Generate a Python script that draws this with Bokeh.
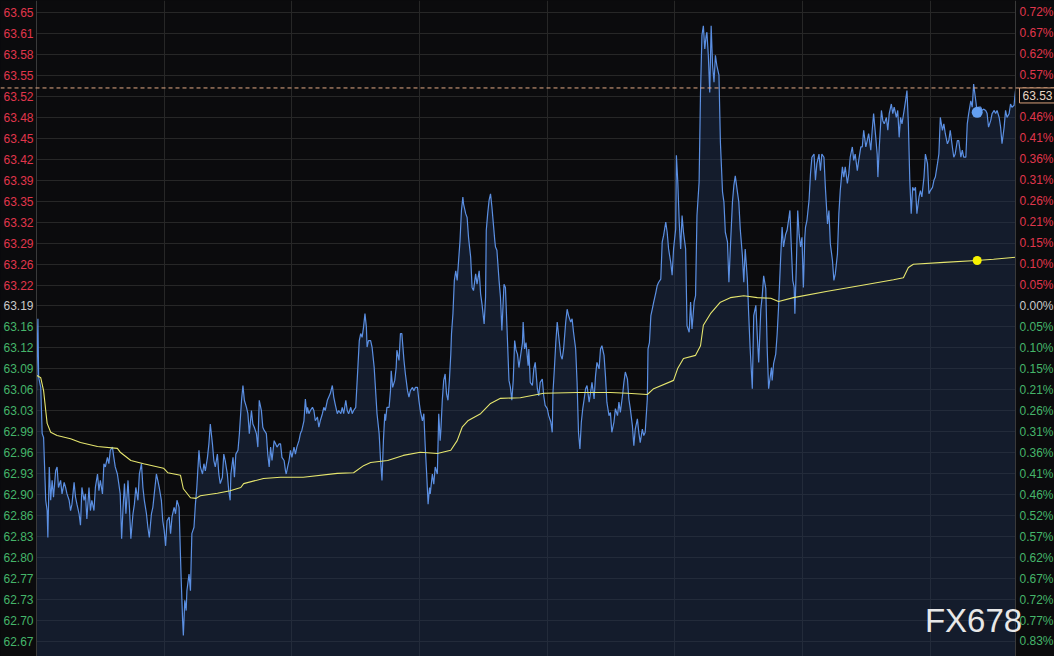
from bokeh.plotting import figure
from bokeh.models import (Range1d, Grid, FixedTicker, LabelSet, Label, Span,
                          ColumnDataSource, BoxAnnotation)
from bokeh.core.properties import value
from bokeh.embed import file_html
from bokeh.resources import INLINE

# ---------------- data (session minutes 0..1380, prices) ----------------
prev_close = 63.19
tick_step = 0.0327
last_price = 63.53
session_minutes = 1380
grid_minutes = [180, 360, 540, 720, 900, 1080, 1260]

left_labels = ["63.65", "63.61", "63.58", "63.55", "63.52", "63.48", "63.45", "63.42",
               "63.39", "63.35", "63.32", "63.29", "63.26", "63.22", "63.19", "63.16",
               "63.12", "63.09", "63.06", "63.03", "62.99", "62.96", "62.93", "62.90",
               "62.86", "62.83", "62.80", "62.77", "62.73", "62.70", "62.67"]
right_labels = ["0.72%", "0.67%", "0.62%", "0.57%", "0.52%", "0.46%", "0.41%", "0.36%",
                "0.31%", "0.26%", "0.21%", "0.15%", "0.10%", "0.05%", "0.00%", "0.05%",
                "0.10%", "0.15%", "0.21%", "0.26%", "0.31%", "0.36%", "0.41%", "0.46%",
                "0.52%", "0.57%", "0.62%", "0.67%", "0.72%", "0.77%", "0.83%"]
tick_steps = list(range(14, -17, -1))

t1 = [0, 1, 2, 3, 6, 8, 10, 13, 15, 16,
      18, 20, 22, 24, 27, 29, 31, 34, 36, 39,
      41, 43, 46, 48, 50, 53, 55, 57, 60, 62,
      64, 67, 69, 71, 74, 76, 78, 81, 83, 86,
      88, 90, 93, 95, 97, 100, 102, 104, 107, 109,
      111, 114, 116, 118, 120, 122, 124, 126, 129, 131,
      133, 136, 138, 140, 143, 145, 148, 150, 152, 155,
      157, 159, 162, 164, 166, 169, 171, 173, 176, 178,
      180, 182, 184, 187, 189, 191, 194, 196, 198, 201,
      203, 204, 206, 207, 209, 211, 212, 215, 217, 219,
      222, 224, 226, 229, 231, 234, 236, 238, 241, 243,
      245, 248, 250, 252, 255, 257, 259, 262, 264, 266,
      269, 271, 273, 274, 277, 279, 281, 284, 286, 289,
      291, 293, 296, 298, 300, 303, 305, 307, 310, 312,
      314, 317, 319, 321, 324, 326, 328, 330, 332, 335,
      337, 339, 342]
p1 = [63.058, 63.115, 63.170, 63.079, 63.063, 62.991, 62.985, 62.887, 62.871, 62.829,
      62.939, 62.887, 62.918, 62.892, 62.933, 62.939, 62.907, 62.918, 62.897, 62.915,
      62.907, 62.897, 62.887, 62.871, 62.881, 62.915, 62.892, 62.881, 62.866, 62.848,
      62.907, 62.887, 62.897, 62.858, 62.907, 62.871, 62.887, 62.871, 62.907, 62.928,
      62.902, 62.918, 62.897, 62.944, 62.939, 62.954, 62.944, 62.965, 62.970, 62.954,
      62.939, 62.928, 62.913, 62.897, 62.827, 62.876, 62.913, 62.866, 62.918, 62.876,
      62.827, 62.866, 62.881, 62.907, 62.887, 62.928, 62.944, 62.907, 62.887, 62.866,
      62.845, 62.829, 62.866, 62.876, 62.897, 62.928, 62.918, 62.907, 62.887, 62.855,
      62.840, 62.816, 62.855, 62.861, 62.835, 62.861, 62.876, 62.866, 62.887, 62.876,
      62.798, 62.762, 62.699, 62.676, 62.731, 62.715, 62.746, 62.772, 62.746, 62.835,
      62.845, 62.881, 62.907, 62.965, 62.939, 62.928, 62.944, 62.933, 62.954, 62.975,
      63.006, 62.975, 62.949, 62.939, 62.959, 62.928, 62.913, 62.923, 62.959, 62.949,
      62.928, 62.902, 62.887, 62.928, 62.954, 62.923, 62.959, 62.965, 62.991, 63.043,
      63.066, 63.043, 63.032, 63.022, 62.991, 63.027, 63.006, 63.001, 62.991, 62.970,
      63.043, 63.027, 63.001, 62.996, 62.991, 62.959, 62.939, 62.970, 62.949, 62.980,
      62.975, 62.970, 62.975]

t2 = [344, 346, 349, 351, 352, 354, 356, 358, 360, 363,
      365, 367, 370, 372, 374, 377, 379, 381, 382, 384,
      386, 389, 391, 393, 396, 398, 400, 403, 405, 407,
      410, 412, 414, 417, 419, 421, 424, 426, 429, 431,
      433, 436, 438, 440, 443, 445, 447, 450, 451, 453,
      455, 457, 459, 461, 463, 465, 466, 468, 471, 473,
      476, 478, 480, 483, 485, 487, 489, 491, 492, 494,
      497, 499, 500, 502, 505, 507, 508, 511, 513, 515,
      518, 520, 523, 525, 527, 530, 532, 534, 537, 539,
      541, 544, 546, 548, 550, 552, 554, 555, 558, 560,
      562, 565, 567, 569, 570, 572, 574, 576, 578, 580,
      582, 584, 585, 587, 589, 591, 593, 595, 597, 599,
      601, 602, 605, 607, 609, 612, 614, 616, 619, 621,
      624, 626, 628, 631, 633, 634, 636, 638, 640, 642,
      644, 646, 647, 649, 652, 654, 656, 659, 661, 663,
      666, 668, 670, 672, 674, 676, 678, 680]
p2 = [62.975, 62.954, 62.949, 62.933, 62.928, 62.939, 62.949, 62.965, 62.954, 62.970,
      62.959, 62.970, 62.980, 62.991, 62.996, 63.011, 63.045, 63.022, 63.032, 63.022,
      63.027, 63.032, 63.027, 63.011, 63.017, 63.001, 63.011, 63.022, 63.032, 63.027,
      63.043, 63.048, 63.053, 63.066, 63.048, 63.037, 63.022, 63.027, 63.022, 63.032,
      63.022, 63.043, 63.027, 63.022, 63.032, 63.022, 63.027, 63.032, 63.053, 63.094,
      63.136, 63.147, 63.141, 63.157, 63.178, 63.157, 63.126, 63.136, 63.136, 63.126,
      63.094, 63.058, 63.022, 62.991, 62.949, 62.918, 62.980, 63.022, 63.011, 63.032,
      63.032, 63.058, 63.089, 63.063, 63.074, 63.094, 63.121, 63.105, 63.147, 63.147,
      63.105, 63.084, 63.058, 63.048, 63.058, 63.063, 63.058, 63.063, 63.063, 63.043,
      63.027, 63.011, 63.022, 62.970, 62.928, 62.881, 62.907, 62.897, 62.928, 62.912,
      62.939, 62.928, 63.022, 62.980, 62.996, 63.043, 63.074, 63.084, 63.053, 63.043,
      63.074, 63.115, 63.147, 63.178, 63.230, 63.245, 63.230, 63.261, 63.292, 63.339,
      63.360, 63.349, 63.334, 63.328, 63.297, 63.266, 63.219, 63.214, 63.240, 63.224,
      63.245, 63.209, 63.193, 63.162, 63.204, 63.308, 63.334, 63.355, 63.365, 63.344,
      63.318, 63.292, 63.282, 63.277, 63.230, 63.204, 63.152, 63.224, 63.219, 63.162,
      63.074, 63.063, 63.043, 63.074, 63.136, 63.121, 63.115, 63.094]

t3 = [685, 686, 688, 690, 693, 694, 696, 699, 701, 703,
      706, 708, 710, 713, 715, 717, 720, 722, 725, 727,
      728, 730, 732, 734, 736, 739, 741, 743, 746, 748,
      750, 753, 755, 757, 760, 762, 764, 766, 768, 770,
      772, 774, 776, 779, 781, 783, 786, 788, 790, 793,
      795, 797, 800, 802, 804, 807, 809, 811, 814, 816,
      819, 821, 823, 826, 828, 830, 833, 835, 837, 840,
      842, 844, 847, 849, 851, 854, 856, 858, 861, 862,
      864, 866, 868, 870, 873, 875, 877, 880, 882, 884,
      887, 889, 891, 894, 896, 898, 901, 902, 904, 906,
      908, 910, 912, 915, 917, 920, 922, 924, 927, 929,
      931, 934, 936, 938, 940, 942, 944, 945, 947, 949,
      951, 953, 955, 957, 959, 962, 964, 967, 969, 971,
      974, 976, 978, 981, 983, 985, 988, 990, 992, 995,
      997, 999, 1002, 1004, 1006, 1009, 1011, 1014, 1016, 1018,
      1021, 1023, 1025, 1028, 1030, 1032]
p3 = [63.133, 63.165, 63.123, 63.133, 63.097, 63.123, 63.071, 63.066, 63.092, 63.102,
      63.061, 63.050, 63.071, 63.076, 63.050, 63.035, 63.030, 63.019, 63.009, 62.993,
      63.055, 63.092, 63.133, 63.165, 63.144, 63.113, 63.107, 63.123, 63.165, 63.185,
      63.175, 63.165, 63.170, 63.149, 63.123, 63.071, 62.993, 62.967, 63.009, 63.030,
      63.045, 63.061, 63.066, 63.040, 63.055, 63.071, 63.045, 63.081, 63.102, 63.092,
      63.123, 63.128, 63.113, 63.081, 63.040, 63.019, 63.024, 62.993, 63.009, 63.030,
      63.019, 63.040, 63.024, 63.050, 63.071, 63.087, 63.076, 63.045, 63.030, 63.003,
      62.972, 62.998, 63.014, 62.993, 62.977, 62.998, 62.988, 62.993, 63.045, 63.123,
      63.133, 63.175, 63.185, 63.196, 63.211, 63.222, 63.227, 63.232, 63.290, 63.300,
      63.321, 63.305, 63.279, 63.258, 63.238, 63.279, 63.310, 63.425, 63.383, 63.321,
      63.279, 63.331, 63.305, 63.279, 63.159, 63.149, 63.196, 63.154, 63.196, 63.206,
      63.331, 63.383, 63.523, 63.612, 63.627, 63.591, 63.612, 63.617, 63.581, 63.523,
      63.627, 63.565, 63.539, 63.581, 63.565, 63.550, 63.446, 63.368, 63.352, 63.305,
      63.290, 63.227, 63.279, 63.352, 63.378, 63.393, 63.368, 63.352, 63.310, 63.269,
      63.227, 63.279, 63.232, 63.175, 63.123, 63.061, 63.175, 63.191, 63.144, 63.102,
      63.185, 63.206, 63.237, 63.217, 63.123, 63.061]

t4 = [1036, 1037, 1039, 1042, 1044, 1046, 1049, 1051, 1053, 1056,
      1058, 1060, 1062, 1064, 1066, 1068, 1069, 1071, 1073, 1075,
      1077, 1079, 1081, 1083, 1084, 1086, 1089, 1091, 1093, 1096,
      1098, 1100, 1103, 1105, 1107, 1110, 1112, 1115, 1117, 1119,
      1122, 1124, 1126, 1129, 1131, 1133, 1136, 1138, 1140, 1143,
      1145, 1147, 1150, 1152, 1154, 1157, 1159, 1162, 1164, 1166,
      1169, 1171, 1173, 1176, 1178, 1180, 1183, 1185, 1186, 1188,
      1191, 1193, 1195, 1198, 1200, 1202, 1205, 1207, 1209, 1212,
      1214, 1216, 1218, 1220, 1223, 1225, 1227, 1229, 1231, 1233,
      1235, 1237, 1239, 1241, 1244, 1246, 1248, 1251, 1253, 1256,
      1258, 1260, 1263, 1265, 1267, 1270, 1272, 1274, 1277, 1279,
      1281, 1284, 1286, 1288, 1291, 1293, 1295, 1298, 1300, 1303,
      1305, 1307, 1310, 1312, 1314, 1317, 1319, 1321, 1324, 1326,
      1328, 1331, 1333, 1335, 1338, 1340, 1342, 1345, 1347, 1350,
      1352, 1354, 1357, 1359, 1361, 1364, 1366, 1368, 1371, 1373,
      1375, 1378, 1379, 1380]
p4 = [63.094, 63.074, 63.100, 63.115, 63.146, 63.188, 63.266, 63.313, 63.282, 63.302,
      63.308, 63.323, 63.339, 63.282, 63.230, 63.219, 63.178, 63.250, 63.339, 63.302,
      63.282, 63.297, 63.219, 63.297, 63.313, 63.323, 63.355, 63.396, 63.422, 63.427,
      63.386, 63.412, 63.427, 63.401, 63.427, 63.422, 63.375, 63.318, 63.339, 63.287,
      63.261, 63.230, 63.240, 63.271, 63.334, 63.370, 63.407, 63.391, 63.407, 63.381,
      63.396, 63.422, 63.438, 63.417, 63.427, 63.401, 63.417, 63.438, 63.438, 63.464,
      63.438, 63.448, 63.459, 63.433, 63.464, 63.490, 63.453, 63.427, 63.391, 63.438,
      63.495, 63.479, 63.474, 63.484, 63.464, 63.490, 63.505, 63.490, 63.500, 63.484,
      63.495, 63.453, 63.484, 63.474, 63.495, 63.510, 63.526, 63.474, 63.386, 63.334,
      63.375, 63.370, 63.375, 63.334, 63.360, 63.370, 63.360, 63.391, 63.427, 63.412,
      63.365, 63.370, 63.375, 63.386, 63.391, 63.412, 63.427, 63.484, 63.464, 63.474,
      63.459, 63.443, 63.448, 63.464, 63.438, 63.422, 63.427, 63.448, 63.448, 63.422,
      63.433, 63.422, 63.422, 63.474, 63.490, 63.510, 63.500, 63.536, 63.510, 63.492,
      63.500, 63.500, 63.495, 63.497, 63.495, 63.490, 63.469, 63.479, 63.490, 63.495,
      63.490, 63.495, 63.484, 63.469, 63.443, 63.469, 63.495, 63.484, 63.490, 63.505,
      63.500, 63.503, 63.516, 63.526]

avg_t = [0, 6, 10, 13, 15, 20, 29, 48, 62, 86,
         114, 118, 133, 151, 179, 185, 203, 207, 217, 225,
         231, 255, 273, 288, 292, 320, 344, 376, 424, 447,
         461, 471, 495, 517, 541, 565, 584, 593, 600, 608,
         626, 640, 654, 682, 715, 763, 809, 833, 861, 870,
         898, 904, 912, 929, 936, 940, 950, 964, 978, 997,
         1016, 1035, 1046, 1067, 1115, 1162, 1208, 1222, 1229, 1236,
         1279, 1325, 1349, 1380]
avg_p = [63.082, 63.078, 63.058, 63.027, 63.007, 62.993, 62.988, 62.983, 62.977, 62.971,
         62.968, 62.962, 62.949, 62.944, 62.937, 62.930, 62.926, 62.905, 62.891, 62.890,
         62.894, 62.898, 62.902, 62.907, 62.913, 62.921, 62.923, 62.923, 62.929, 62.930,
         62.941, 62.946, 62.949, 62.957, 62.962, 62.960, 62.965, 62.980, 63.001, 63.011,
         63.022, 63.038, 63.046, 63.047, 63.054, 63.055, 63.055, 63.054, 63.052, 63.061,
         63.074, 63.093, 63.108, 63.113, 63.128, 63.160, 63.178, 63.196, 63.203, 63.206,
         63.203, 63.202, 63.197, 63.203, 63.213, 63.222, 63.231, 63.234, 63.250, 63.255,
         63.258, 63.261, 63.263, 63.266]

cursor_t = 1326
cursor_price = 63.492
cursor_avg = 63.261

times = t1 + t2 + t3 + t4
prices = p1 + p2 + p3 + p4
if len(times) != len(prices) or len(avg_t) != len(avg_p):
    raise ValueError("length mismatch %d %d %d %d" % (len(times), len(prices), len(avg_t), len(avg_p)))

# ---------------- layout ----------------
BG = "#0b0b0d"
W, H = 1054, 656
LB, RB = 36, 39                        # pixel width of the left / right label strips
y_lo, y_hi = 62.6434, 63.6664
mpp = session_minutes / (W - LB - RB)  # minutes per pixel inside the chart area
x_lo, x_hi = -LB * mpp, session_minutes + RB * mpp

p = figure(width=W, height=H, x_range=Range1d(x_lo, x_hi), y_range=Range1d(y_lo, y_hi),
           x_axis_type=None, y_axis_type=None, output_backend="svg", toolbar_location=None,
           min_border=0, background_fill_color=BG, border_fill_color=BG,
           outline_line_color=None)

try:
    from bokeh.models import GlobalInlineStyleSheet
    p.stylesheets = [GlobalInlineStyleSheet(css="html, body { background-color: #0b0b0d; }")]
except Exception:
    pass

tick_prices = [prev_close + k * tick_step for k in tick_steps]

p.add_layout(Grid(dimension=0, ticker=FixedTicker(ticks=grid_minutes),
                  grid_line_color="#272727", grid_line_width=1))
p.add_layout(Grid(dimension=1, ticker=FixedTicker(ticks=tick_prices),
                  grid_line_color="#272727", grid_line_width=1))

src = ColumnDataSource(dict(t=times, price=prices))
p.varea(x="t", y1=y_lo, y2="price", source=src, fill_color="#1e3052", fill_alpha=0.45)
p.line(x="t", y="price", source=src, line_color="#5b8fe2", line_width=1.2)
p.line(x=avg_t, y=avg_p, line_color="#e6e66e", line_width=1.1)

p.scatter(x=[cursor_t], y=[cursor_price], size=11, color="#64a0f2", line_color=None)
p.scatter(x=[cursor_t], y=[cursor_avg], size=9, color="#f7f200", line_color=None)

# label strips (cover the grid there) and their separator lines
p.add_layout(BoxAnnotation(right=0, fill_color=BG, fill_alpha=1, line_color=None))
p.add_layout(BoxAnnotation(left=session_minutes, fill_color=BG, fill_alpha=1, line_color=None))
p.add_layout(Span(location=0, dimension="height", line_color="#3a3a3a", line_width=1))
p.add_layout(Span(location=session_minutes, dimension="height", line_color="#3a3a3a", line_width=1))

p.add_layout(Span(location=last_price, dimension="width", line_color="#e4aa84",
                  line_dash="4 3", line_width=1))

RED, GREY, GREEN = "#e0364c", "#c9c9c9", "#45b56a"
colors = [RED if k > 0 else (GREY if k == 0 else GREEN) for k in tick_steps]

lsrc = ColumnDataSource(dict(y=tick_prices, text=left_labels, color=colors))
p.add_layout(LabelSet(x=LB - 3, y="y", x_units="screen", text="text", text_color="color",
                      text_align="right", text_baseline="middle",
                      text_font=value("Liberation Sans"), text_font_size=value("12px"),
                      source=lsrc))
rsrc = ColumnDataSource(dict(y=tick_prices, text=right_labels, color=colors))
p.add_layout(LabelSet(x=W - RB + 4, y="y", x_units="screen", text="text", text_color="color",
                      text_align="left", text_baseline="middle",
                      text_font=value("Liberation Sans"), text_font_size=value("12px"),
                      source=rsrc))

p.add_layout(Label(x=W - RB + 4, y=last_price, x_units="screen", text="%.2f" % last_price,
                   text_align="left", text_baseline="top", text_color="#e8d6c4",
                   text_font="Liberation Sans", text_font_size="12px",
                   background_fill_color=BG, border_line_color="#d8a07c", padding=3))

p.add_layout(Label(x=973, y=36, x_units="screen", y_units="screen", text="FX678",
                   text_align="center", text_baseline="middle", text_color="#e8e8e8",
                   text_font="Liberation Sans", text_font_size="33px"))

open("out.html", "w").write(file_html(p, INLINE))
